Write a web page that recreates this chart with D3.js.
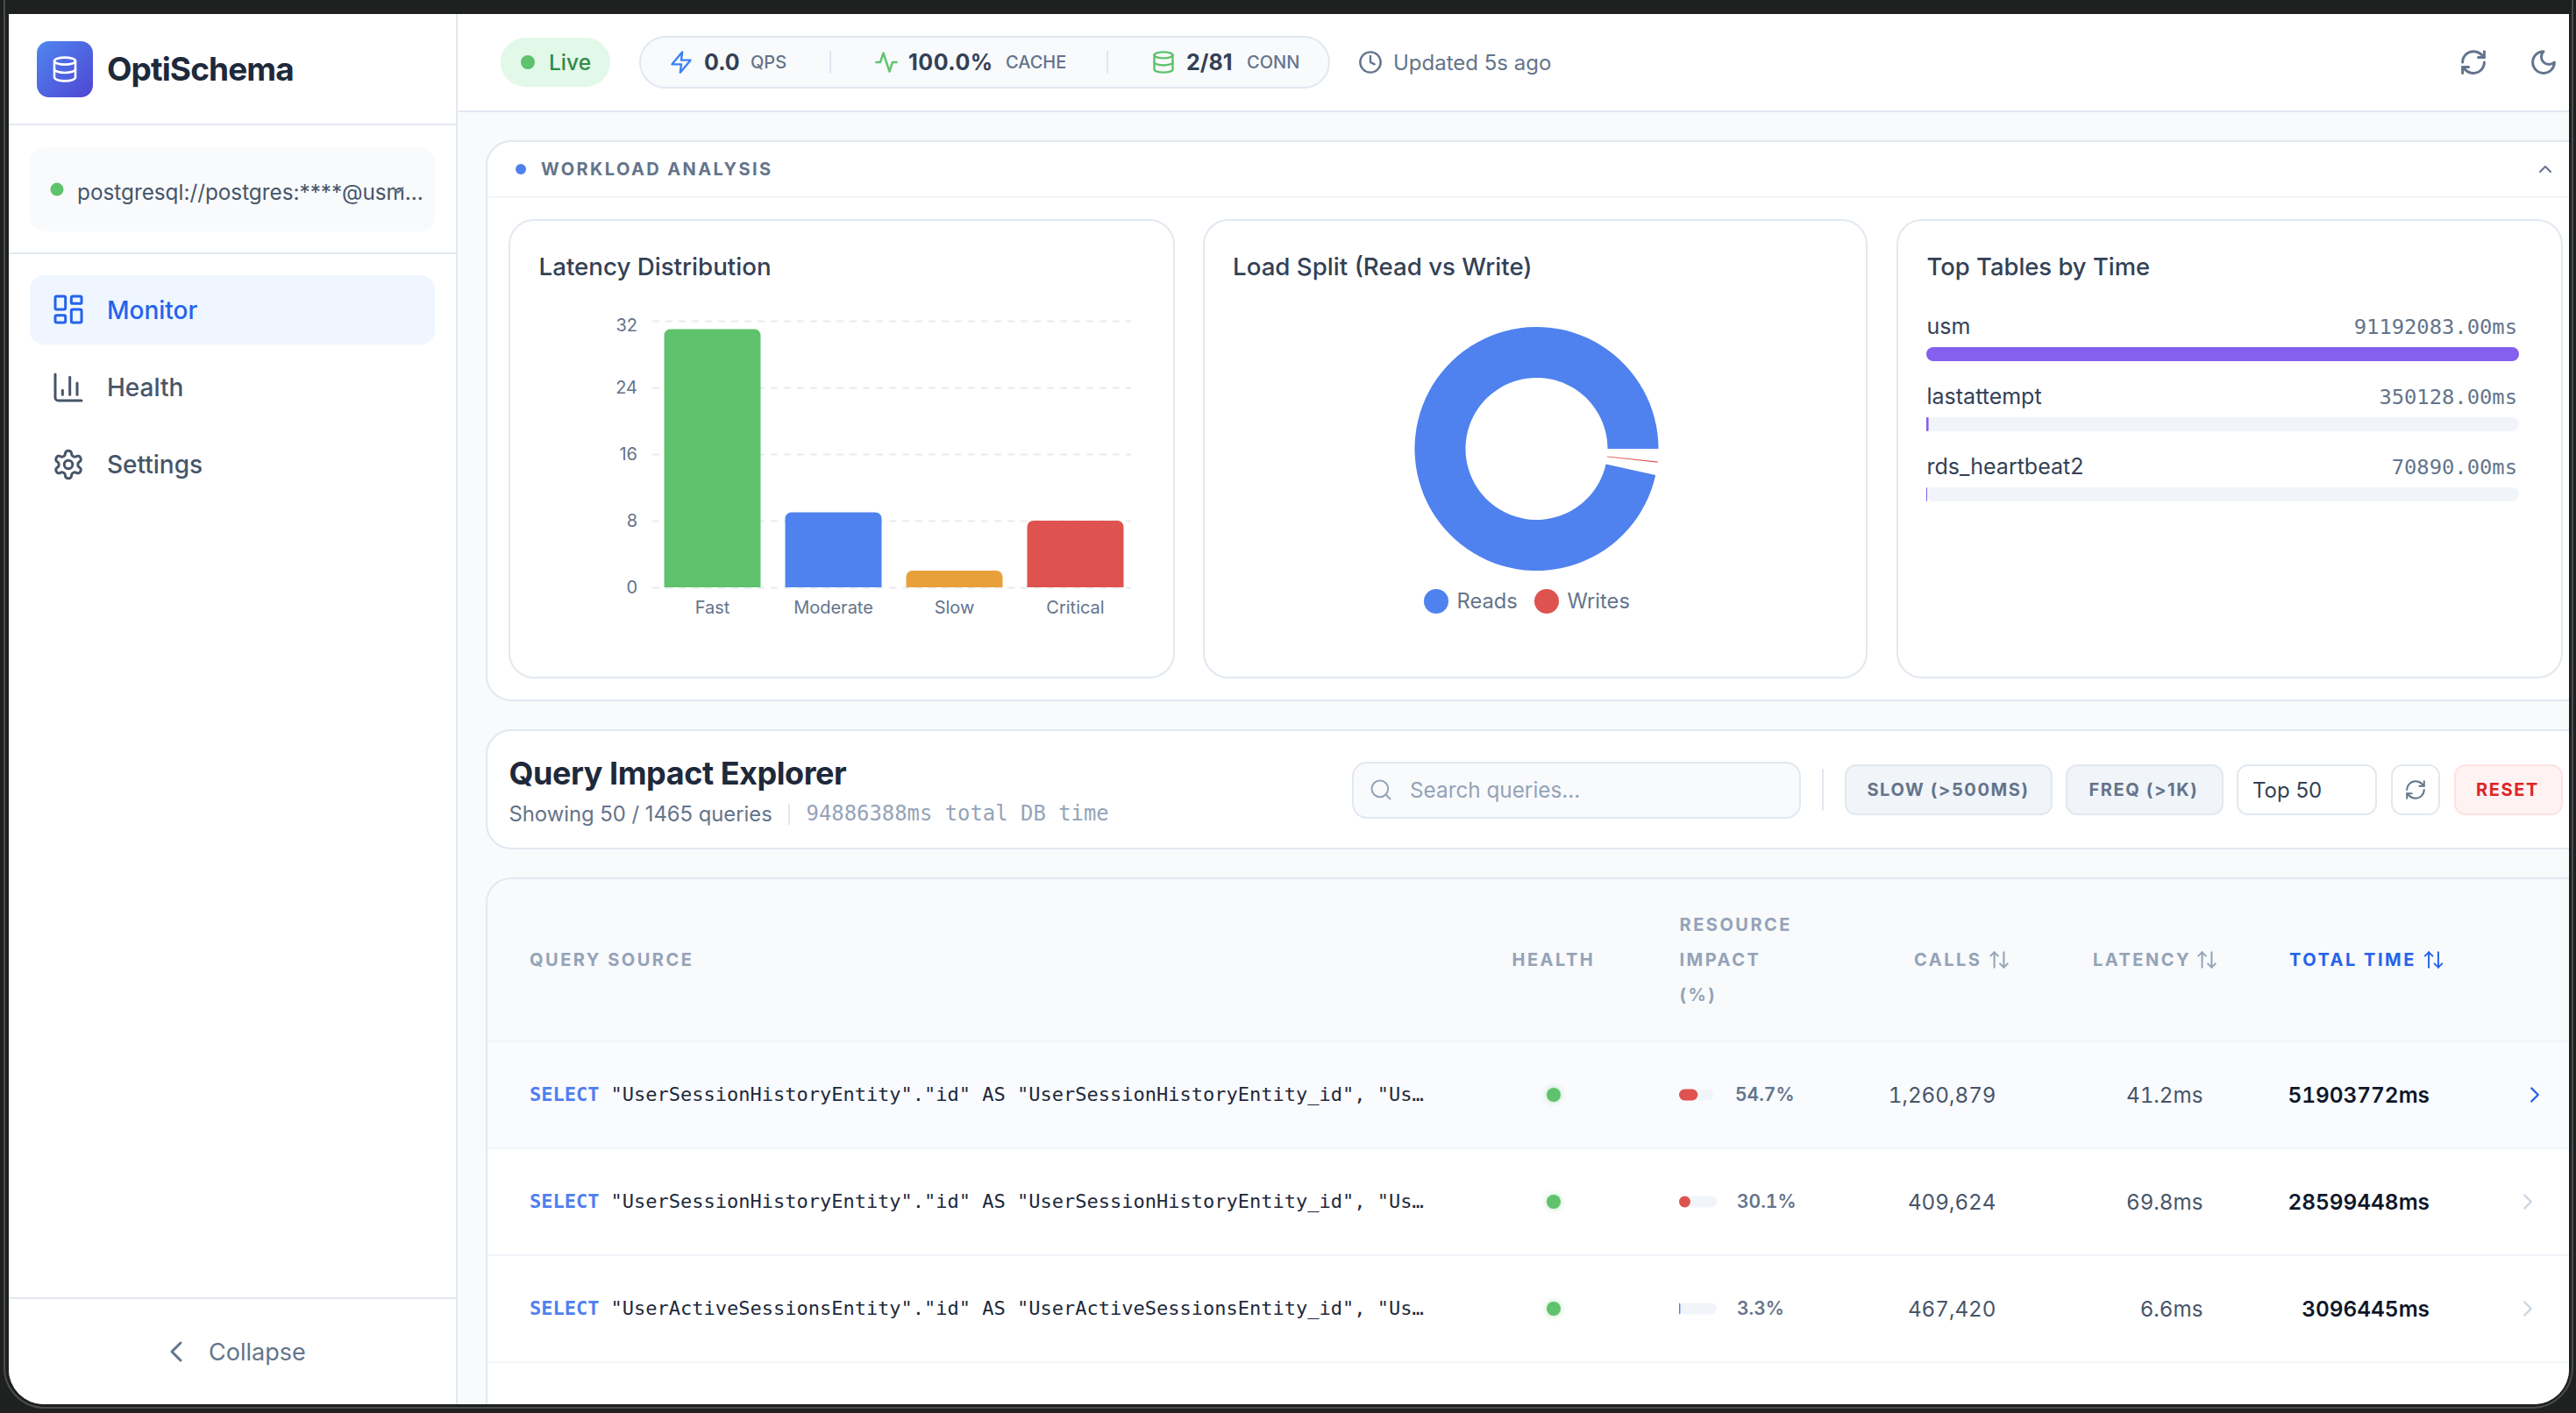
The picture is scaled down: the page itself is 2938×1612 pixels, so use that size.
<!DOCTYPE html>
<html>
<head>
<meta charset="utf-8">
<title>OptiSchema</title>
<script src="https://cdn.jsdelivr.net/npm/d3@7"></script>
<style>
  html, body { margin: 0; padding: 0; background: #1f2120; }
  svg { display: block; }
  text { font-family: Inter, "Noto Sans", sans-serif; }
  .mono { font-family: "DejaVu Sans Mono", monospace; }
  .num { font-variant-numeric: tabular-nums; }
</style>
</head>
<body>
<div id="chart"></div>
<script>
// chart data
var latencyCategories = ["Fast", "Moderate", "Slow", "Critical"];
var latencyValues = [31, 9, 2, 8];
var latencyTicks = [0, 8, 16, 24, 32];

var loadLabels = ["Reads", "Writes"];
var loadValues = [99.86, 0.14];

var tableNames = ["usm", "lastattempt", "rds_heartbeat2"];
var tableTimes = [91192083, 350128, 70890];

var queryKeywords = ["SELECT", "SELECT", "SELECT"];
var queryBodies = [
  "\"UserSessionHistoryEntity\".\"id\" AS \"UserSessionHistoryEntity_id\", \"Us…",
  "\"UserSessionHistoryEntity\".\"id\" AS \"UserSessionHistoryEntity_id\", \"Us…",
  "\"UserActiveSessionsEntity\".\"id\" AS \"UserActiveSessionsEntity_id\", \"Us…"
];
var queryImpact = [54.7, 30.1, 3.3];
var queryCalls = [1260879, 409624, 467420];
var queryLatency = [41.2, 69.8, 6.6];
var queryTotal = [51903772, 28599448, 3096445];

// colours
var latencyColors = ["#5fc26c", "#4f82ee", "#e8a13a", "#de534f"];
var loadColors = ["#4f82ee", "#de534f"];
var line = "#e2e8f0";

// lucide icon paths
var icons = {
  database: ["M3 5a9 3 0 1 0 18 0a9 3 0 1 0 -18 0", "M3 5V19A9 3 0 0 0 21 19V5", "M3 12A9 3 0 0 0 21 12"],
  dashboard: ["M4 3h5a1 1 0 0 1 1 1v7a1 1 0 0 1-1 1H4a1 1 0 0 1-1-1V4a1 1 0 0 1 1-1z", "M15 3h5a1 1 0 0 1 1 1v3a1 1 0 0 1-1 1h-5a1 1 0 0 1-1-1V4a1 1 0 0 1 1-1z", "M15 12h5a1 1 0 0 1 1 1v7a1 1 0 0 1-1 1h-5a1 1 0 0 1-1-1v-7a1 1 0 0 1 1-1z", "M4 16h5a1 1 0 0 1 1 1v3a1 1 0 0 1-1 1H4a1 1 0 0 1-1-1v-3a1 1 0 0 1 1-1z"],
  bars: ["M3 3v16a2 2 0 0 0 2 2h16", "M18 17V9", "M13 17V5", "M8 17v-3"],
  settings: ["M12.22 2h-.44a2 2 0 0 0-2 2v.18a2 2 0 0 1-1 1.73l-.43.25a2 2 0 0 1-2 0l-.15-.08a2 2 0 0 0-2.73.73l-.22.38a2 2 0 0 0 .73 2.73l.15.1a2 2 0 0 1 1 1.72v.51a2 2 0 0 1-1 1.74l-.15.09a2 2 0 0 0-.73 2.73l.22.38a2 2 0 0 0 2.73.73l.15-.08a2 2 0 0 1 2 0l.43.25a2 2 0 0 1 1 1.73V20a2 2 0 0 0 2 2h.44a2 2 0 0 0 2-2v-.18a2 2 0 0 1 1-1.73l.43-.25a2 2 0 0 1 2 0l.15.08a2 2 0 0 0 2.73-.73l.22-.39a2 2 0 0 0-.73-2.73l-.15-.08a2 2 0 0 1-1-1.74v-.5a2 2 0 0 1 1-1.74l.15-.09a2 2 0 0 0 .73-2.73l-.22-.38a2 2 0 0 0-2.73-.73l-.15.08a2 2 0 0 1-2 0l-.43-.25a2 2 0 0 1-1-1.73V4a2 2 0 0 0-2-2z", "M9 12a3 3 0 1 0 6 0a3 3 0 1 0 -6 0"],
  zap: ["M13 2 3 14h9l-1 8 10-12h-9l1-8z"],
  activity: ["M22 12h-4l-3 9L9 3l-3 9H2"],
  clock: ["M2 12a10 10 0 1 0 20 0a10 10 0 1 0 -20 0", "M12 6v6l4 2"],
  refresh: ["M3 12a9 9 0 0 1 9-9 9.75 9.75 0 0 1 6.74 2.74L21 8", "M21 3v5h-5", "M21 12a9 9 0 0 1-9 9 9.75 9.75 0 0 1-6.74-2.74L3 16", "M8 16H3v5"],
  moon: ["M12 3a6 6 0 0 0 9 9 9 9 0 1 1-9-9Z"],
  up: ["m18 15-6-6-6 6"],
  down: ["m6 9 6 6 6-6"],
  right: ["m9 18 6-6-6-6"],
  left: ["m15 18-6-6 6-6"],
  search: ["M3 11a8 8 0 1 0 16 0a8 8 0 1 0 -16 0", "m21 21-4.3-4.3"],
  sort: ["m21 16-4 4-4-4", "M17 20V4", "m3 8 4-4 4 4", "M7 4v16"]
};

var svg = d3.select("#chart").append("svg")
  .attr("width", 2938)
  .attr("height", 1612);

var defs = svg.append("defs");
var logoGrad = defs.append("linearGradient").attr("id", "logoGrad")
  .attr("x1", 0).attr("y1", 0).attr("x2", 1).attr("y2", 1);
logoGrad.append("stop").attr("offset", "0%").attr("stop-color", "#4f86ee");
logoGrad.append("stop").attr("offset", "100%").attr("stop-color", "#4f46d4");

defs.append("clipPath").attr("id", "win").append("path")
  .attr("d", "M10 16H2930V1562a40 40 0 0 1-40 40H50a40 40 0 0 1-40-40Z");

var glow = defs.append("filter").attr("id", "glow")
  .attr("x", "-100%").attr("y", "-100%").attr("width", "300%").attr("height", "300%");
glow.append("feGaussianBlur").attr("stdDeviation", 3);

// window edge highlights
svg.append("path").attr("d", "M5 0V1560a46 46 0 0 0 46 46H2890a46 46 0 0 0 44-46V0")
  .attr("fill", "none").attr("stroke", "#4b4d4c").attr("stroke-width", 2);

var page = svg.append("g").attr("clip-path", "url(#win)");

// helpers
function box(parent, x, y, w, h, r, fill, stroke) {
  return parent.append("rect").attr("x", x).attr("y", y).attr("width", w).attr("height", h)
    .attr("rx", r).attr("fill", fill).attr("stroke", stroke || "none").attr("stroke-width", stroke ? 2 : 0);
}
function hline(parent, x1, x2, y, color) {
  return parent.append("line").attr("x1", x1).attr("x2", x2).attr("y1", y).attr("y2", y)
    .attr("stroke", color || line).attr("stroke-width", 2);
}
function vline(parent, x, y1, y2, color) {
  return parent.append("line").attr("x1", x).attr("x2", x).attr("y1", y1).attr("y2", y2)
    .attr("stroke", color || line).attr("stroke-width", 2);
}
function label(parent, x, y, str, size, color, weight, anchor, spacing, cls) {
  return parent.append("text").attr("x", x).attr("y", y).text(str)
    .attr("class", cls || null)
    .attr("font-size", size).attr("fill", color).attr("font-weight", weight || 400)
    .attr("text-anchor", anchor || "start").attr("letter-spacing", spacing || 0);
}
function icon(parent, name, cx, cy, size, color, sw) {
  var k = size / 24;
  var g = parent.append("g")
    .attr("transform", "translate(" + (cx - size / 2) + "," + (cy - size / 2) + ") scale(" + k + ")")
    .attr("fill", "none").attr("stroke", color).attr("stroke-width", (sw || 2) / k)
    .attr("stroke-linecap", "round").attr("stroke-linejoin", "round");
  icons[name].forEach(function (d) { g.append("path").attr("d", d); });
  return g;
}

// backgrounds
page.append("rect").attr("x", 0).attr("y", 0).attr("width", 2938).attr("height", 1612).attr("fill", "#f8fafc");

// sidebar
var side = page.append("g");
side.append("rect").attr("x", 10).attr("y", 16).attr("width", 511).attr("height", 1596).attr("fill", "#fff");
vline(side, 521, 16, 1612);
hline(side, 10, 521, 142);
hline(side, 10, 521, 289);
hline(side, 10, 521, 1481);

box(side, 42, 47, 64, 64, 14, "url(#logoGrad)");
icon(side, "database", 74, 79, 32, "#fff", 2.6);
label(side, 122, 92, "OptiSchema", 37, "#1e293b", 700, "start", -0.9);

box(side, 34, 168, 462, 96, 16, "#f8fafc");
side.append("circle").attr("cx", 65).attr("cy", 216).attr("r", 7.5).attr("fill", "#5fc26c");
label(side, 88, 228, "postgresql://postgres:****@usm...", 24.3, "#475569", 400);
icon(side, "down", 454, 217, 22, "#64748b", 2);

box(side, 34, 314, 462, 79, 16, "#eff6ff");
icon(side, "dashboard", 78, 353, 40, "#2563eb", 3);
label(side, 122, 364, "Monitor", 28, "#2563eb", 500);
icon(side, "bars", 78, 442, 40, "#475569", 3);
label(side, 122, 452, "Health", 28, "#475569", 500);
icon(side, "settings", 78, 530, 38, "#475569", 3);
label(side, 122, 540, "Settings", 28, "#475569", 500);

icon(side, "left", 201, 1542, 40, "#64748b", 3);
label(side, 238, 1552, "Collapse", 27, "#64748b", 400);

// top bar
var topbar = page.append("g");
topbar.append("rect").attr("x", 522).attr("y", 16).attr("width", 2420).attr("height", 111).attr("fill", "#fff");
hline(topbar, 522, 2940, 127);

box(topbar, 571, 43, 125, 56, 28, "#e2f8e8");
topbar.append("circle").attr("cx", 602).attr("cy", 71).attr("r", 8).attr("fill", "#5fc26c");
label(topbar, 626, 80, "Live", 24.5, "#2f8a4a", 500);

box(topbar, 730, 42, 786, 58, 29, "#f8fafc", line);
icon(topbar, "zap", 777, 71, 28, "#3b82f6", 2.4);
label(topbar, 803, 80, "0.0", 25, "#334155", 700);
label(topbar, 856, 78, "QPS", 20, "#64748b", 500);
vline(topbar, 947, 58, 84);
icon(topbar, "activity", 1011, 71, 28, "#5fc26c", 2.4);
label(topbar, 1036, 80, "100.0%", 25, "#334155", 700, "start", 0.5);
label(topbar, 1147, 78, "CACHE", 20, "#64748b", 500);
vline(topbar, 1263, 58, 84);
icon(topbar, "database", 1327, 71, 28, "#5fc26c", 2.4);
label(topbar, 1353, 80, "2/81", 25, "#334155", 700);
label(topbar, 1422, 78, "CONN", 20, "#64748b", 500);
icon(topbar, "clock", 1563, 71, 28, "#64748b", 2.4);
label(topbar, 1589, 80, "Updated 5s ago", 24, "#64748b", 400);
icon(topbar, "refresh", 2821, 71, 33, "#64748b", 3);
icon(topbar, "moon", 2901, 71, 33, "#64748b", 3);

// workload section
var work = page.append("g");
box(work, 555, 161, 2420, 638, 28, "#fff", line);
hline(work, 556, 2940, 225, "#f1f5f9");
work.append("circle").attr("cx", 594).attr("cy", 193).attr("r", 6).attr("fill", "#4f82ee");
label(work, 617, 200, "WORKLOAD ANALYSIS", 20, "#64748b", 700, "start", 2.4);
icon(work, "up", 2903, 193, 24, "#64748b", 2);

box(work, 581, 251, 758, 522, 28, "#fff", line);
box(work, 1373, 251, 756, 522, 28, "#fff", line);
box(work, 2164, 251, 758, 522, 28, "#fff", line);
label(work, 614.5, 314, "Latency Distribution", 27.7, "#334155", 500);
label(work, 1406, 314, "Load Split (Read vs Write)", 27.7, "#334155", 500);
label(work, 2197.5, 314, "Top Tables by Time", 27.4, "#334155", 500);

// latency bars
var x = d3.scaleBand().domain(latencyCategories).range([743.5, 1295.5]).paddingInner(0.203).paddingOuter(0.1015);
var y = d3.scaleLinear().domain([0, 32]).range([670, 366]);

var yAxis = work.append("g").attr("transform", "translate(744,0)")
  .call(d3.axisLeft(y).tickValues(latencyTicks).tickSizeInner(-546).tickSizeOuter(0).tickPadding(17));
yAxis.select(".domain").remove();
yAxis.selectAll("line").attr("stroke", "#e7ebf0").attr("stroke-width", 2).attr("stroke-dasharray", "8 7");
yAxis.selectAll("text").attr("font-size", 20).attr("fill", "#64748b")
  .style("font-family", "Inter")
  .attr("dy", function (d) { return d === 32 ? "0.57em" : "0.32em"; });

var xAxis = work.append("g").attr("transform", "translate(0,670)")
  .call(d3.axisBottom(x).tickSize(0).tickPadding(16));
xAxis.select(".domain").remove();
xAxis.selectAll("text").attr("font-size", 20).attr("fill", "#64748b").style("font-family", "Inter");

function topRounded(bx, by, w, h, r) {
  var p = d3.path();
  p.moveTo(bx, by + h);
  p.lineTo(bx, by + r);
  p.arcTo(bx, by, bx + r, by, r);
  p.lineTo(bx + w - r, by);
  p.arcTo(bx + w, by, bx + w, by + r, r);
  p.lineTo(bx + w, by + h);
  p.closePath();
  return p.toString();
}

work.selectAll(".lat-bar").data(latencyValues).enter().append("path")
  .attr("class", "lat-bar")
  .attr("d", function (d, i) {
    return topRounded(x(latencyCategories[i]), y(d), x.bandwidth(), y(0) - y(d), 7);
  })
  .attr("fill", function (d, i) { return latencyColors[i]; });

// load donut, slices run counter clockwise from 3 o'clock
// the pad sits after each slice, so take it back off the end angle
var loadPad = 6 * Math.PI / 180;
var pie = d3.pie().sort(null)
  .startAngle(Math.PI / 2)
  .endAngle(Math.PI / 2 - 2 * Math.PI)
  .padAngle(loadPad);
var arc = d3.arc().innerRadius(81).outerRadius(139).padAngle(0);

var donut = work.append("g").attr("transform", "translate(1752.5,512)");
donut.selectAll("path").data(pie(loadValues)).enter().append("path")
  .attr("d", function (d) {
    return arc({ startAngle: d.startAngle, endAngle: d.endAngle + loadPad });
  })
  .attr("fill", function (d, i) { return loadColors[i]; });

var legendX = [1638, 1764];
loadLabels.forEach(function (name, i) {
  work.append("circle").attr("cx", legendX[i]).attr("cy", 686).attr("r", 14).attr("fill", loadColors[i]);
  label(work, legendX[i] + 23.5, 694, name, 23.7, "#64748b", 400);
});

// top tables
var tableX = d3.scaleLinear().domain([0, d3.max(tableTimes)]).range([0, 676]);
var rowBase = [381, 461, 541];
var rowTrack = [396, 476, 556];
var fmtTime = d3.format(".2f");
tableNames.forEach(function (name, i) {
  label(work, 2197.5, rowBase[i], name, 25, "#334155", 400);
  label(work, 2871, rowBase[i], fmtTime(tableTimes[i]) + "ms", 23.8, "#64748b", 400, "end", 0, "mono");
  box(work, 2197, rowTrack[i], 676, 16, 8, "#f1f5f9");
  box(work, 2197, rowTrack[i], Math.max(1, tableX(tableTimes[i])), 16, i === 0 ? 8 : 1, "#8360ee");
});

// query explorer header
var qh = page.append("g");
box(qh, 555, 833, 2420, 135, 28, "#fff", line);
label(qh, 580.5, 895, "Query Impact Explorer", 36, "#1e293b", 700, "start", -0.45);
label(qh, 580.5, 937, "Showing 50 / 1465 queries", 23.8, "#64748b", 400);
vline(qh, 900, 917, 941);
label(qh, 919.5, 936, "94886388ms total DB time", 23.9, "#94a3b8", 400, "start", 0, "mono");

box(qh, 1543, 870, 510, 63, 16, "#f8fafc", line);
icon(qh, "search", 1575, 901, 28, "#94a3b8", 2);
label(qh, 1608, 910, "Search queries...", 24.3, "#94a3b8", 400);
vline(qh, 2079, 877, 925);

box(qh, 2105, 873, 235, 56, 12, "#f1f5f9", line);
label(qh, 2222, 908, "SLOW (>500MS)", 20, "#64748b", 700, "middle", 1.6);
box(qh, 2357, 873, 178, 56, 12, "#f1f5f9", line);
label(qh, 2445, 908, "FREQ (>1K)", 20, "#64748b", 700, "middle", 1.6);
box(qh, 2552, 873, 158, 56, 12, "#fff", line);
label(qh, 2569, 910, "Top 50", 24, "#334155", 400);
box(qh, 2728, 873, 54, 56, 12, "#fff", line);
icon(qh, "refresh", 2755, 901, 26, "#64748b", 2);
box(qh, 2800, 873, 122, 56, 12, "#fef2f2", "#fee2e2");
label(qh, 2860, 908, "RESET", 20, "#dc2626", 700, "middle", 1.6);

// query table
var tbl = page.append("g");
box(tbl, 555, 1002, 2420, 700, 28, "#fff", line);
tbl.append("path").attr("d", "M556 1188V1031a28 28 0 0 1 28-28H2940V1188Z").attr("fill", "#f8fafc");

var headStyle = ["#94a3b8", 700];
function head(x0, y0, str, color) {
  return label(tbl, x0, y0, str, 20, color || headStyle[0], headStyle[1], "start", 2.5);
}
head(604, 1102, "QUERY SOURCE");
head(1724.5, 1102, "HEALTH");
head(1915.5, 1062, "RESOURCE");
head(1915.5, 1102, "IMPACT");
head(1915.5, 1142, "(%)");
head(2183, 1102, "CALLS");
icon(tbl, "sort", 2280, 1095, 26, "#94a3b8", 2);
head(2387, 1102, "LATENCY");
icon(tbl, "sort", 2517, 1095, 26, "#94a3b8", 2);
head(2611, 1102, "TOTAL TIME", "#2563eb");
icon(tbl, "sort", 2775.5, 1095, 26, "#2563eb", 2);

var rowTop = d3.scaleLinear().domain([0, 1]).range([1188, 1310]);
var rowH = rowTop(1) - rowTop(0);
var fmtCalls = d3.format(",");
var fmtLat = d3.format(".1f");
var trackW = [39, 43, 43];
var pctX = [1979, 1981, 1981];

tbl.append("rect").attr("x", 556).attr("y", rowTop(0)).attr("width", 2400).attr("height", rowH).attr("fill", "#f9fbfe");
hline(tbl, 556, 2940, rowTop(0), "#f1f5f9");

queryBodies.forEach(function (body, i) {
  var cy = rowTop(i) + rowH / 2;
  var base = cy + 9;
  var impactX = d3.scaleLinear().domain([0, 100]).range([0, trackW[i]]);

  hline(tbl, 556, 2940, rowTop(i + 1), "#f1f5f9");

  var q = label(tbl, 604, cy + 7, "", 22, "#1e293b", 400, "start", 0, "mono");
  q.append("tspan").attr("fill", "#4f7ff0").attr("font-weight", 700).text(queryKeywords[i]);
  q.append("tspan").attr("dx", 13).text(body);

  tbl.append("circle").attr("cx", 1772).attr("cy", cy).attr("r", 9).attr("fill", "#5fc26c").attr("opacity", 0.35).attr("filter", "url(#glow)");
  tbl.append("circle").attr("cx", 1772).attr("cy", cy).attr("r", 8).attr("fill", "#5fc26c");

  box(tbl, 1915, cy - 6.5, trackW[i], 13, 6.5, "#f1f5f9");
  box(tbl, 1915, cy - 6.5, impactX(queryImpact[i]), 13, queryImpact[i] < 10 ? 1 : 6.5, queryImpact[i] < 10 ? "#4f82ee" : "#de534f");
  label(tbl, pctX[i], cy + 7, queryImpact[i] + "%", 21, "#64748b", 600, "start", 0, "num");

  label(tbl, 2276.5, base, fmtCalls(queryCalls[i]), 24.2, "#475569", 400, "end", 0, "num");
  label(tbl, 2512.5, base, fmtLat(queryLatency[i]) + "ms", 24.2, "#475569", 400, "end", 0, "num");
  label(tbl, 2771, base, queryTotal[i] + "ms", 24.4, "#0f172a", 600, "end", 0, "num");

  icon(tbl, "right", i === 0 ? 2891 : 2883, cy, 30, i === 0 ? "#2563eb" : "#cbd5e1", 2.4);
});
</script>
</body>
</html>
